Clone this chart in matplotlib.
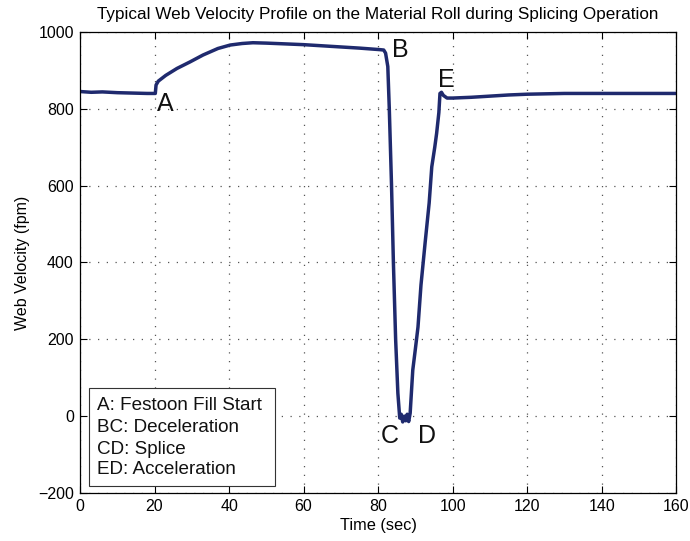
import matplotlib
matplotlib.use("Agg")
import matplotlib.pyplot as plt
from matplotlib.patches import Rectangle

plt.rcParams['font.family'] = ['Liberation Sans', 'DejaVu Sans']

# Web velocity profile (time in sec, velocity in fpm)
time_sec = [0.0, 3.0, 6.0, 10.0, 14.0, 18.0, 20.2, 20.4, 21.0, 23.0, 26.0, 29.5,
            33.0, 37.0, 40.3, 43.5, 46.4, 50.0, 55.0, 60.0, 65.0, 70.0, 75.0,
            80.5, 81.5, 82.0, 82.6, 83.0, 83.6, 84.1, 84.7, 85.3, 85.8,
            86.2, 86.6, 87.0, 87.4, 87.8, 88.2, 88.6, 89.3, 90.0, 90.7,
            91.5, 92.6, 93.7, 94.4, 95.2, 95.7, 96.3, 96.6, 97.0, 97.5,
            98.5, 100.0, 105.0, 110.0, 115.0, 120.0, 130.0, 140.0, 150.0, 160.0]
velocity_fpm = [845, 843, 844, 842, 841, 840, 840, 862, 872, 887, 905, 922,
                940, 957, 966, 970, 972, 971, 969, 967, 964, 961, 958,
                954, 953, 945, 910, 800, 600, 400, 200, 60, -5,
                5, -15, 0, -12, 5, -14, 8, 120, 175, 232,
                341, 450, 555, 649, 700, 736, 790, 840, 843, 835,
                828, 828, 830, 833, 836, 838, 840, 840, 840, 840]

# Point annotations
point_labels = ['A', 'B', 'C', 'D', 'E']
label_time = [22.8, 85.9, 83.0, 93.2, 98.3]
label_vel = [812, 953, -52, -52, 875]

legend_lines = ['A: Festoon Fill Start', 'BC: Deceleration', 'CD: Splice', 'ED: Acceleration']

x_ticks = [0, 20, 40, 60, 80, 100, 120, 140, 160]
y_ticks = [-200, 0, 200, 400, 600, 800, 1000]
y_tick_labels = ['\u2212200', '0', '200', '400', '600', '800', '1000']

fig = plt.figure(figsize=(6.9, 5.41), dpi=100)
ax = fig.add_axes([0.116, 0.0887, 0.864, 0.8522])

ax.plot(time_sec, velocity_fpm, color='#1f2a6e', lw=2.5, solid_joinstyle='round')

ax.set_xlim(0, 160)
ax.set_ylim(-200, 1000)
ax.set_xticks(x_ticks)
ax.set_yticks(y_ticks)
ax.set_yticklabels(y_tick_labels)
ax.tick_params(direction='in', length=5, width=0.8, top=True, right=True,
               labelsize=11.5, pad=4.5)
ax.grid(True, linestyle=(0, (1, 6)), color='#555555', linewidth=0.9)
for s in ax.spines.values():
    s.set_linewidth(0.9)

ax.set_title('Typical Web Velocity Profile on the Material Roll during Splicing Operation',
             fontsize=12.3, pad=9)
ax.set_xlabel('Time (sec)', fontsize=11.8, labelpad=3)
ax.set_ylabel('Web Velocity (fpm)', fontsize=11.5, labelpad=6)

for lab, t, v in zip(point_labels, label_time, label_vel):
    ax.text(t, v, lab, fontsize=18, ha='center', va='center', color='#111111')

# Legend-like description box
box = Rectangle((0.0156, 0.0152), 0.3116, 0.2126, transform=ax.transAxes,
                facecolor='white', edgecolor='#333333', lw=0.8, zorder=3)
ax.add_patch(box)
line_y = [0.190, 0.142, 0.095, 0.051]
for txt, yy in zip(legend_lines, line_y):
    ax.text(0.029, yy, txt, transform=ax.transAxes, fontsize=13.6,
            ha='left', va='center', zorder=4, color='#111111')

fig.savefig('out.png', dpi=100)
